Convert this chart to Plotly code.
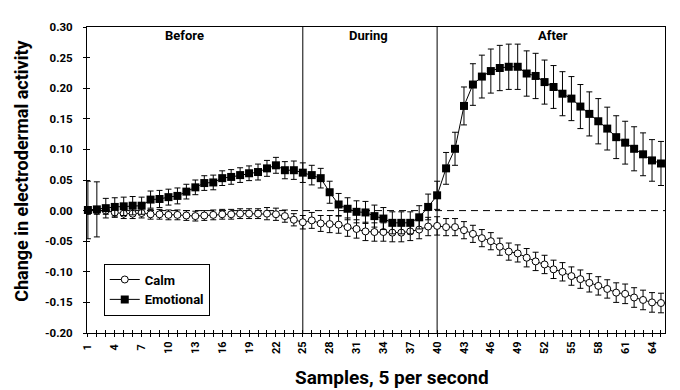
import plotly.graph_objects as go

samples = list(range(1, 66))

emotional = [0.001, 0.002, 0.004, 0.006, 0.007, 0.008, 0.008, 0.018, 0.019, 0.022,
             0.024, 0.031, 0.038, 0.045, 0.046, 0.053, 0.055, 0.058, 0.061, 0.063,
             0.069, 0.074, 0.066, 0.066, 0.062, 0.058, 0.053, 0.030, 0.010, 0.003,
             -0.002, -0.003, -0.009, -0.013, -0.020, -0.020, -0.020, -0.011, 0.006, 0.025,
             0.069, 0.101, 0.171, 0.206, 0.219, 0.228, 0.233, 0.235, 0.235, 0.224,
             0.220, 0.210, 0.202, 0.191, 0.183, 0.170, 0.158, 0.146, 0.134, 0.120,
             0.111, 0.101, 0.092, 0.082, 0.077]
emotional_err = [0.047, 0.045, 0.016, 0.015, 0.015, 0.015, 0.014, 0.014, 0.014, 0.013,
                 0.013, 0.012, 0.012, 0.012, 0.012, 0.012, 0.012, 0.012, 0.012, 0.013,
                 0.013, 0.013, 0.014, 0.015, 0.016, 0.016, 0.016, 0.018, 0.018, 0.018,
                 0.018, 0.018, 0.018, 0.018, 0.018, 0.018, 0.018, 0.019, 0.021, 0.023,
                 0.026, 0.027, 0.031, 0.034, 0.035, 0.036, 0.037, 0.037, 0.037, 0.037,
                 0.037, 0.036, 0.035, 0.036, 0.036, 0.036, 0.036, 0.037, 0.035, 0.035,
                 0.035, 0.036, 0.035, 0.034, 0.036]

calm = [0.000, 0.000, 0.000, -0.003, -0.005, -0.005, -0.004, -0.006, -0.006, -0.007,
        -0.007, -0.008, -0.009, -0.008, -0.007, -0.006, -0.006, -0.005, -0.005, -0.005,
        -0.005, -0.006, -0.009, -0.015, -0.019, -0.016, -0.021, -0.022, -0.023, -0.027,
        -0.030, -0.034, -0.035, -0.035, -0.036, -0.036, -0.034, -0.031, -0.026, -0.025,
        -0.027, -0.027, -0.032, -0.038, -0.045, -0.050, -0.059, -0.067, -0.070, -0.077,
        -0.083, -0.088, -0.096, -0.100, -0.107, -0.112, -0.118, -0.123, -0.128, -0.134,
        -0.136, -0.142, -0.146, -0.150, -0.151]
calm_err = [0.006, 0.006, 0.006, 0.008, 0.008, 0.008, 0.008, 0.008, 0.008, 0.008,
            0.008, 0.008, 0.008, 0.008, 0.008, 0.008, 0.008, 0.008, 0.008, 0.008,
            0.010, 0.010, 0.010, 0.010, 0.011, 0.013, 0.013, 0.014, 0.014, 0.015,
            0.015, 0.015, 0.015, 0.015, 0.015, 0.015, 0.015, 0.015, 0.015, 0.015,
            0.014, 0.014, 0.014, 0.014, 0.014, 0.014, 0.014, 0.014, 0.014, 0.015,
            0.015, 0.015, 0.015, 0.015, 0.015, 0.015, 0.015, 0.015, 0.015, 0.016,
            0.016, 0.016, 0.016, 0.016, 0.016]

x_tick_labels = [str(s) + "\u00a0" if s < 10 else str(s) for s in samples if (s - 1) % 3 == 0]
y_tick_vals = [-0.20, -0.15, -0.10, -0.05, 0.00, 0.05, 0.10, 0.15, 0.20, 0.25, 0.30]
y_tick_labels = ["-0.20", "-0.15", "-0.10", "-0.05", "0.00", "0.05", "0.10", "0.15", "0.20", "0.25", "0.30"]
phases = ["Before", "During", "After"]
phase_label_x = [11.8, 32.3, 52.9]
phase_bounds = [25, 40]

FONT = "Roboto"
x_ticktext = []
lab_iter = iter(x_tick_labels)
for s in samples:
    x_ticktext.append(next(lab_iter) if (s - 1) % 3 == 0 else "")

fig = go.Figure()
fig.add_trace(go.Scatter(
    x=samples, y=calm, name="Calm", mode="lines+markers",
    line=dict(color="black", width=1),
    marker=dict(symbol="circle", size=7, color="white", line=dict(color="black", width=1)),
    error_y=dict(type="data", array=calm_err, visible=True, color="black", thickness=1, width=3),
    cliponaxis=False,
))
fig.add_trace(go.Scatter(
    x=samples, y=emotional, name="Emotional", mode="lines+markers",
    line=dict(color="black", width=1),
    marker=dict(symbol="square", size=8, color="black", line=dict(color="black", width=0)),
    error_y=dict(type="data", array=emotional_err, visible=True, color="black", thickness=1, width=3),
    cliponaxis=False,
))
# empty trace to activate the overlay axes (inside tick marks)
fig.add_trace(go.Scatter(x=[], y=[], xaxis="x2", yaxis="y2", showlegend=False, hoverinfo="skip"))

xr = [0.9, 65.45]
yr = [-0.20, 0.30]

fig.update_layout(
    width=672, height=382,
    margin=dict(l=79, r=15, t=12, b=57),
    paper_bgcolor="white", plot_bgcolor="white",
    font=dict(family=FONT, color="black"),
    showlegend=True,
    legend=dict(x=0.029, y=0.227, xanchor="left", yanchor="top",
                bgcolor="white", bordercolor="black", borderwidth=1,
                font=dict(family=FONT, size=13, weight="bold", color="black"),
                tracegroupgap=0),
    xaxis=dict(range=xr, tickmode="array", tickvals=samples, ticktext=x_ticktext,
               tickangle=-90, ticks="outside", ticklen=3, tickcolor="black", tickwidth=1,
               showline=True, linecolor="black", linewidth=1, mirror=True,
               showgrid=False, zeroline=False,
               tickfont=dict(family=FONT, size=11, weight="bold", color="black")),
    yaxis=dict(range=yr, tickmode="array", tickvals=y_tick_vals, ticktext=y_tick_labels,
               ticks="outside", ticklen=3, tickcolor="black", tickwidth=1,
               showline=True, linecolor="black", linewidth=1, mirror=True,
               showgrid=False, zeroline=False, ticklabelstandoff=8,
               tickfont=dict(family=FONT, size=11.5, weight="bold", color="black")),
    xaxis2=dict(range=xr, overlaying="x", anchor="y", side="bottom",
                tickmode="array", tickvals=samples, showticklabels=False,
                ticks="inside", ticklen=3, tickcolor="black", tickwidth=1,
                showline=False, showgrid=False, zeroline=False),
    yaxis2=dict(range=yr, overlaying="y", anchor="x", side="left",
                tickmode="array", tickvals=y_tick_vals, showticklabels=False,
                ticks="inside", ticklen=3, tickcolor="black", tickwidth=1,
                showline=False, showgrid=False, zeroline=False),
)

# dividers and zero line
for b in phase_bounds:
    fig.add_shape(type="line", xref="x", yref="paper", x0=b, x1=b, y0=0, y1=1,
                  line=dict(color="black", width=1), layer="below")
fig.add_shape(type="line", xref="paper", yref="y", x0=0, x1=1, y0=0, y1=0,
              line=dict(color="black", width=1, dash="7px,5px"), layer="below")

for name, px in zip(phases, phase_label_x):
    fig.add_annotation(x=px, y=0.286, xref="x", yref="y", text=name, showarrow=False,
                       yanchor="middle",
                       font=dict(family=FONT, size=13, weight="bold", color="black"))

fig.add_annotation(x=0.528, y=-0.144, xref="paper", yref="paper", text="Samples, 5 per second",
                   showarrow=False, xanchor="center", yanchor="middle",
                   font=dict(family=FONT, size=19, weight="bold", color="black"))
fig.add_annotation(x=-0.1125, y=0.53, xref="paper", yref="paper",
                   text="Change in electrodermal activity", textangle=-90,
                   showarrow=False, xanchor="center", yanchor="middle",
                   font=dict(family=FONT, size=18, weight="bold", color="black"))

fig.write_html("out.html")
